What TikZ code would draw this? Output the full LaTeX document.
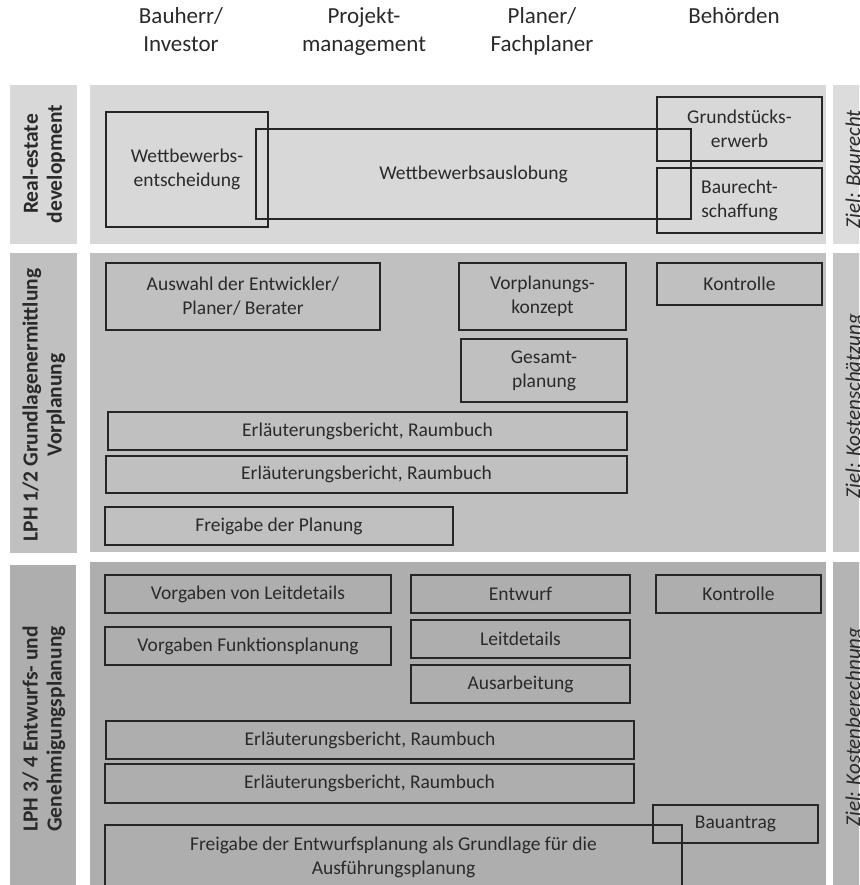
\documentclass[tikz,border=0pt]{standalone}
\usepackage{fontspec}
\setmainfont{Carlito}
\definecolor{bgA}{HTML}{D8D8D8}
\definecolor{bgAr}{HTML}{DCDCDC}
\definecolor{bgB}{HTML}{C0C0C0}
\definecolor{bgBr}{HTML}{C6C6C6}
\definecolor{bgC}{HTML}{AEAEAE}
\definecolor{bgCr}{HTML}{B4B4B4}
\definecolor{boxline}{HTML}{262626}
\definecolor{txt}{HTML}{2A2A2A}
\newcommand\boxfont{\fontsize{19.5}{24}\selectfont}
\newcommand\headfont{\fontsize{23}{28}\selectfont}
\newcommand\sidefont{\fontsize{21.5}{24}\selectfont\bfseries}
\newcommand\goalfont{\fontsize{21}{24}\selectfont\itshape}
\newcommand\myrect[7][]{\node[#1, minimum width={(#5-#3)*1pt}, minimum height={(#6-#4)*1pt}] (#2) at ({(#3+#5)/2},{(#4+#6)/2}) {#7};}
\begin{document}
\begin{tikzpicture}[x=1pt,y=-1pt,
  band/.style={draw=none, inner sep=0pt, outer sep=0pt},
  bx/.style={draw=boxline, line width=1.3pt, inner sep=0pt, align=center, text=txt, font=\boxfont},
  head/.style={align=center, text=txt, font=\headfont, anchor=north, inner sep=0pt},
  side/.style={rotate=90, align=center, text=txt, font=\sidefont, inner sep=0pt},
  goal/.style={rotate=90, text=txt, font=\goalfont, anchor=base, inner sep=0pt}]
\useasboundingbox (0,0) rectangle (859,885);
\clip (0,0) rectangle (859,885);
\fill[white] (0,0) rectangle (859,885);
% header
\node[head] (h1) at (181,7) {Bauherr/\\Investor};
\node[head] (h2) at (364,7) {Projekt-\\management};
\node[head] (h3) at (542,7) {Planer/\\Fachplaner};
\node[head] (h4) at (734,7) {Behörden};
% band 1
\myrect[band, fill=bgA]{l1}{10}{85}{77}{244}{}
\myrect[band, fill=bgA]{m1}{90}{85}{826}{244}{}
\myrect[band, fill=bgAr]{r1}{833}{85}{880}{244}{}
% band 2
\myrect[band, fill=bgB]{l2}{10}{253}{77}{553}{}
\myrect[band, fill=bgB]{m2}{90}{253}{826}{552}{}
\myrect[band, fill=bgBr]{r2}{833}{253}{880}{552}{}
% band 3
\myrect[band, fill=bgC]{l3}{10}{565}{76}{900}{}
\myrect[band, fill=bgC]{m3}{90}{562}{826}{900}{}
\myrect[band, fill=bgCr]{r3}{833}{562}{880}{900}{}
% side labels
\node[side] (s1) at (44,164) {Real-estate\\development};
\node[side] (s2) at (44,405) {LPH 1/2 Grundlagenermittlung\\Vorplanung};
\node[side] (s3) at (44,729) {LPH 3/ 4 Entwurfs- und\\Genehmigungsplanung};
% goals
\node[goal] (g1) at (860,169) {Ziel: Baurecht};
\node[goal] (g2) at (860,406) {Ziel: Kostenschätzung};
\node[goal] (g3) at (860,727) {Ziel: Kostenberechnung};
% band 1 boxes
\myrect[bx]{we}{106}{112}{268}{227}{Wettbewerbs-\\entscheidung}
\myrect[bx]{wa}{256}{129}{691}{219}{Wettbewerbsauslobung}
\myrect[bx]{ge}{657}{97}{822}{161}{Grundstücks-\\erwerb}
\myrect[bx]{bs}{657}{168}{822}{233}{Baurecht-\\schaffung}
% band 2 boxes
\myrect[bx]{aw}{106}{263}{380}{330}{Auswahl der Entwickler/\\Planer/ Berater}
\myrect[bx]{vk}{459}{263}{626}{330}{Vorplanungs-\\konzept}
\myrect[bx]{k1}{657}{263}{822}{305}{Kontrolle}
\myrect[bx]{gp}{461}{339}{627}{402}{Gesamt-\\planung}
\myrect[bx]{e1}{108}{412}{627}{450}{Erläuterungsbericht, Raumbuch}
\myrect[bx]{e2}{106}{456}{627}{493}{Erläuterungsbericht, Raumbuch}
\myrect[bx]{fp}{105}{507}{453}{545}{Freigabe der Planung}
% band 3 boxes
\myrect[bx]{vl}{105}{575}{391}{613}{Vorgaben von Leitdetails}
\myrect[bx]{vf}{105}{627}{391}{665}{Vorgaben Funktionsplanung}
\myrect[bx]{ew}{411}{575}{630}{613}{Entwurf}
\myrect[bx]{ld}{411}{620}{630}{658}{Leitdetails}
\myrect[bx]{au}{411}{665}{630}{703}{Ausarbeitung}
\myrect[bx]{k2}{656}{575}{821}{613}{Kontrolle}
\myrect[bx]{e3}{106}{721}{634}{759}{Erläuterungsbericht, Raumbuch}
\myrect[bx]{e4}{105}{764}{634}{803}{Erläuterungsbericht, Raumbuch}
\myrect[bx]{ba}{653}{805}{818}{843}{Bauantrag}
\myrect[bx]{fe}{105}{825}{682}{889}{Freigabe der Entwurfsplanung als Grundlage für die\\Ausführungsplanung}
\end{tikzpicture}
\end{document}
